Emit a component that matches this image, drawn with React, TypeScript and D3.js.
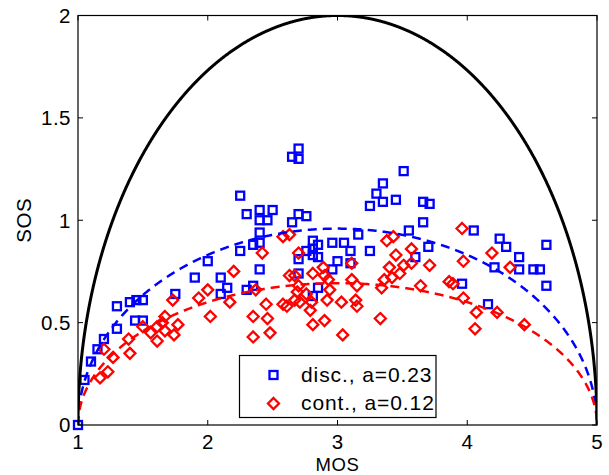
import React from "react";
import * as d3 from "d3";

const xTicks = [1, 2, 3, 4, 5];
const yTicks = [0, 0.5, 1, 1.5, 2];
const yTickLabels = ["0", "0.5", "1", "1.5", "2"];

const blueMOS = [1.0, 1.05, 1.1, 1.15, 1.2, 1.3, 1.3, 1.4, 1.45, 1.5, 1.44, 1.5, 1.75, 1.9, 2.0, 2.1, 2.15, 2.1, 2.3, 2.35, 2.25, 2.35, 2.4, 2.4, 2.4, 2.25, 2.3, 2.4, 2.5, 2.4, 2.46, 2.65, 2.7, 2.7, 2.7, 2.76, 2.65, 2.81, 2.85, 2.81, 2.76, 2.81, 2.85, 2.7, 2.7, 2.85, 2.81, 2.96, 3.05, 3.1, 3.16, 3.25, 3.0, 2.96, 3.1, 3.25, 3.3, 3.35, 3.35, 3.45, 3.51, 3.66, 3.71, 3.66, 3.55, 3.7, 3.6, 3.96, 4.05, 4.25, 4.3, 4.61, 4.4, 4.21, 4.4, 4.51, 4.56, 4.61, 4.16];
const blueSOS = [0.0, 0.22, 0.31, 0.37, 0.42, 0.47, 0.58, 0.6, 0.61, 0.61, 0.51, 0.51, 0.64, 0.72, 0.8, 0.72, 0.67, 0.64, 0.66, 0.68, 0.85, 0.88, 0.89, 0.94, 0.76, 1.12, 1.03, 1.05, 1.05, 1.0, 1.0, 1.31, 1.35, 1.3, 1.03, 1.02, 0.99, 0.9, 0.88, 0.86, 0.85, 0.83, 0.82, 0.81, 0.74, 0.67, 0.63, 0.89, 0.89, 0.85, 0.93, 0.85, 0.8, 0.76, 0.79, 1.07, 1.13, 1.18, 1.09, 1.1, 1.24, 1.09, 1.08, 0.99, 0.95, 0.87, 0.82, 0.69, 0.95, 0.91, 0.87, 0.88, 0.82, 0.77, 0.76, 0.76, 0.76, 0.68, 0.59];

const redMOS = [1.17, 1.23, 1.2, 1.27, 1.39, 1.4, 1.5, 1.56, 1.61, 1.61, 1.65, 1.67, 1.67, 1.74, 1.77, 1.73, 1.93, 2.0, 2.02, 2.2, 2.17, 2.35, 2.35, 2.37, 2.45, 2.46, 2.48, 2.42, 2.58, 2.63, 2.63, 2.67, 2.7, 2.58, 2.61, 2.67, 2.69, 2.7, 2.71, 2.76, 2.8, 2.79, 2.81, 2.89, 2.9, 2.93, 2.94, 2.92, 2.81, 2.9, 3.03, 3.04, 3.11, 3.11, 3.15, 3.14, 3.15, 3.33, 3.34, 3.36, 3.4, 3.42, 3.38, 3.43, 3.45, 3.51, 3.48, 3.57, 3.57, 3.71, 3.64, 3.86, 3.89, 3.96, 3.97, 3.97, 4.07, 4.06, 4.19, 4.23, 4.33, 4.44];
const redSOS = [0.23, 0.26, 0.37, 0.33, 0.42, 0.35, 0.48, 0.45, 0.48, 0.41, 0.5, 0.53, 0.46, 0.44, 0.49, 0.61, 0.62, 0.66, 0.53, 0.75, 0.6, 0.53, 0.43, 0.66, 0.59, 0.52, 0.45, 0.84, 0.92, 0.93, 0.73, 0.73, 0.84, 0.59, 0.58, 0.61, 0.65, 0.68, 0.6, 0.64, 0.6, 0.56, 0.74, 0.77, 0.73, 0.71, 0.66, 0.61, 0.49, 0.51, 0.6, 0.44, 0.79, 0.71, 0.68, 0.61, 0.58, 0.52, 0.67, 0.71, 0.77, 0.72, 0.9, 0.92, 0.83, 0.78, 0.74, 0.86, 0.79, 0.78, 0.68, 0.7, 0.69, 0.96, 0.8, 0.62, 0.55, 0.47, 0.84, 0.55, 0.77, 0.49];

const fitA = [1, 0.23, 0.12];
const fitColors = ["#000000", "#0000ff", "#ff0000"];
const legendLabels = ["disc., a=0.23", "cont., a=0.12"];

const W = 609;
const H = 475;
const left = 78;
const right = 597;
const top = 15.5;
const bottom = 425;
const FONT = "'Liberation Sans', Arial, Helvetica, sans-serif";

export default function App() {
  const x = d3.scaleLinear().domain([1, 5]).range([left, right]);
  const y = d3.scaleLinear().domain([0, 2]).range([bottom, top]);

  const grid = d3.range(0, 1.0000001, 0.0005).map((t) => 1 + 4 * (0.5 - 0.5 * Math.cos(Math.PI * t)));
  const line = d3
    .line<[number, number]>()
    .x((d) => x(d[0]))
    .y((d) => y(d[1]));
  const curve = (a: number) =>
    line(grid.map((m) => [m, Math.sqrt(Math.max(0, a * (-m * m + 6 * m - 5)))] as [number, number])) || "";

  const sq = 4;
  const dm = 5.5;
  const square = (cx: number, cy: number, key: string | number) => (
    <rect key={key} x={cx - sq} y={cy - sq} width={2 * sq} height={2 * sq} fill="none" stroke="#0000ff" strokeWidth={2.3} />
  );
  const diamond = (cx: number, cy: number, key: string | number) => (
    <path
      key={key}
      d={`M${cx},${cy - dm}L${cx + dm},${cy}L${cx},${cy + dm}L${cx - dm},${cy}Z`}
      fill="none"
      stroke="#ff0000"
      strokeWidth={2.3}
    />
  );

  return (
    <svg
      width={W}
      height={H}
      style={{ position: "absolute", left: 0, top: 0, background: "#fff" }}
      fontFamily={FONT}
    >
      <rect x={0} y={0} width={W} height={H} fill="#fff" />
      <defs>
        <clipPath id="plotclip">
          <rect x={left} y={top} width={right - left} height={bottom - top + 3} />
        </clipPath>
      </defs>

      <g>
        {blueMOS.map((m, i) => square(x(m), y(blueSOS[i]), "b" + i))}
        {redMOS.map((m, i) => diamond(x(m), y(redSOS[i]), "r" + i))}
      </g>

      <g clipPath="url(#plotclip)">
        <path d={curve(fitA[1])} fill="none" stroke={fitColors[1]} strokeWidth={2.5} strokeDasharray="9,6" />
        <path d={curve(fitA[2])} fill="none" stroke={fitColors[2]} strokeWidth={2.5} strokeDasharray="9,6" />
        <path d={curve(fitA[0])} fill="none" stroke={fitColors[0]} strokeWidth={3} />
      </g>

      {/* frame */}
      <rect x={left} y={top} width={right - left} height={bottom - top} fill="none" stroke="#000" strokeWidth={1.2} />

      {/* x ticks */}
      {xTicks.map((t) => (
        <g key={"xt" + t}>
          <line x1={x(t)} x2={x(t)} y1={bottom} y2={bottom - 5} stroke="#000" strokeWidth={1} />
          <line x1={x(t)} x2={x(t)} y1={top} y2={top + 5} stroke="#000" strokeWidth={1} />
          <text x={x(t)} y={449} textAnchor="middle" fontSize={20.5} fill="#000">
            {t}
          </text>
        </g>
      ))}
      {/* y ticks */}
      {yTicks.map((t, i) => (
        <g key={"yt" + t}>
          <line x1={left} x2={left + 5} y1={y(t)} y2={y(t)} stroke="#000" strokeWidth={1} />
          <line x1={right} x2={right - 5} y1={y(t)} y2={y(t)} stroke="#000" strokeWidth={1} />
          <text x={71} y={y(t) + 7.3} textAnchor="end" fontSize={20.5} letterSpacing={0.5} fill="#000">
            {yTickLabels[i]}
          </text>
        </g>
      ))}

      <text x={(left + right) / 2} y={471} textAnchor="middle" fontSize={18.5} letterSpacing={0.6} fill="#000">
        MOS
      </text>
      <text
        transform={`translate(31,${(top + bottom) / 2}) rotate(-90)`}
        textAnchor="middle"
        fontSize={20.5}
        letterSpacing={0.5}
        fill="#000"
      >
        SOS
      </text>

      {/* legend */}
      <g>
        <rect x={239.5} y={355.5} width={196.5} height={62} fill="#fff" stroke="#000" strokeWidth={1.2} />
        {square(273.5, 375, "lb")}
        {diamond(273.5, 403.5, "lr")}
        <text x={301} y={381.5} fontSize={21} letterSpacing={0.9} fill="#000">
          {legendLabels[0]}
        </text>
        <text x={301} y={410} fontSize={21} letterSpacing={0.9} fill="#000">
          {legendLabels[1]}
        </text>
      </g>
    </svg>
  );
}
